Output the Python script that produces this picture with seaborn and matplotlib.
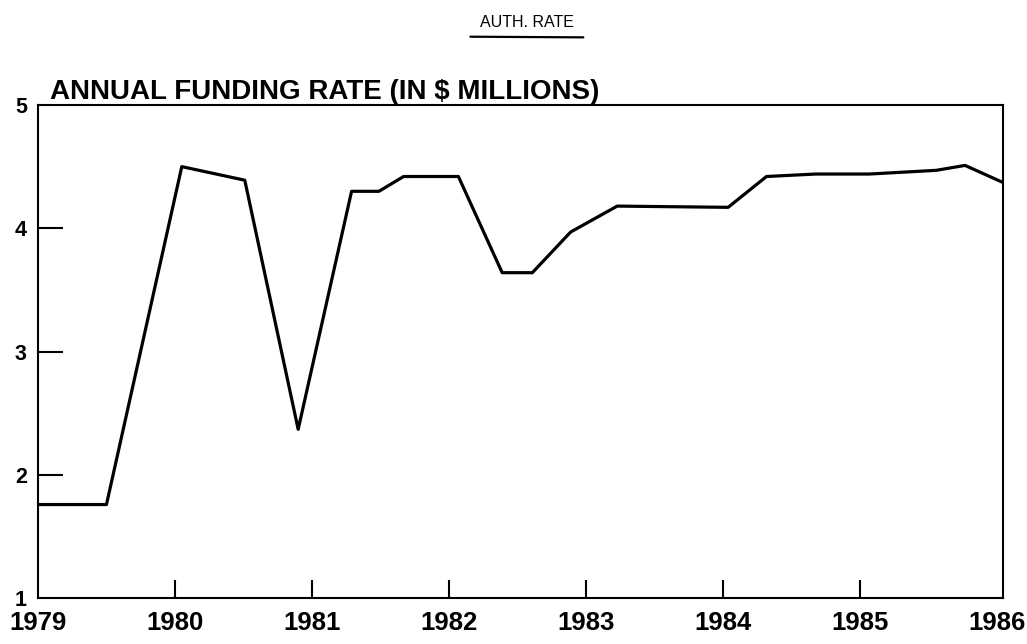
import numpy as np
import pandas as pd
import matplotlib
matplotlib.use('Agg')
import matplotlib.pyplot as plt
from matplotlib.lines import Line2D
import seaborn as sns

# Data (year, annual funding rate in $ millions)
YEARS = [1979.0, 1979.50, 1980.05, 1980.51, 1980.90, 1981.29, 1981.49, 1981.67,
         1982.07, 1982.39, 1982.61, 1982.89, 1983.23, 1984.04, 1984.32, 1984.68,
         1985.07, 1985.56, 1985.77, 1986.05]
RATE = [1.76, 1.76, 4.50, 4.39, 2.37, 4.30, 4.30, 4.42,
        4.42, 3.64, 3.64, 3.97, 4.18, 4.17, 4.42, 4.44,
        4.44, 4.47, 4.51, 4.37]
X_TICKS = [1979, 1980, 1981, 1982, 1983, 1984, 1985, 1986]
Y_TICKS = [1, 2, 3, 4, 5]

TITLE = 'ANNUAL FUNDING RATE (IN $ MILLIONS)'
LEGEND_LABEL = 'AUTH. RATE'

sns.set_style('white')
plt.rcParams['font.family'] = ['Liberation Sans', 'DejaVu Sans']
plt.rcParams['text.color'] = 'black'
plt.rcParams['xtick.color'] = 'black'
plt.rcParams['ytick.color'] = 'black'

df = pd.DataFrame({'year': YEARS, 'rate': RATE})

fig = plt.figure(figsize=(10.27, 6.44), dpi=100)
ax = fig.add_axes([0.037, 0.071, 0.940, 0.766])

sns.lineplot(data=df, x='year', y='rate', color='black', linewidth=2.3, ax=ax)

ax.set_xlim(1979, 1986.05)
ax.set_ylim(1, 5)
ax.set_xticks(X_TICKS)
ax.set_yticks(Y_TICKS)
ax.set_xticklabels([str(t) for t in X_TICKS], fontsize=18.5, fontweight='bold')
ax.set_yticklabels([str(t) for t in Y_TICKS], fontsize=15.5, fontweight='bold')
ax.tick_params(axis='x', bottom=True, direction='in', length=13, width=1.5, pad=9,
               colors='black')
ax.tick_params(axis='y', left=True, direction='in', length=18, width=1.5, pad=8,
               colors='black')
ax.set_xlabel('')
ax.set_ylabel('')
for sp in ax.spines.values():
    sp.set_visible(True)
    sp.set_color('black')
    sp.set_linewidth(1.5)

# no ticks at the very ends (the box corners)
for t in ax.xaxis.get_major_ticks():
    if t.get_loc() in (1979, 1986):
        t.tick1line.set_visible(False)
for t in ax.yaxis.get_major_ticks():
    if t.get_loc() in (1, 5):
        t.tick1line.set_visible(False)

# title above the box
fig.text(0.049, 0.857, TITLE, fontsize=20, fontweight='bold', ha='left', va='center')

# legend sample: label above a line segment
fig.text(0.513, 0.965, LEGEND_LABEL, fontsize=11.5, ha='center', va='center')
fig.add_artist(Line2D([0.458, 0.568], [0.943, 0.942], color='black', linewidth=1.6,
                      transform=fig.transFigure))

plt.savefig('out.png', dpi=100)
plt.close()
